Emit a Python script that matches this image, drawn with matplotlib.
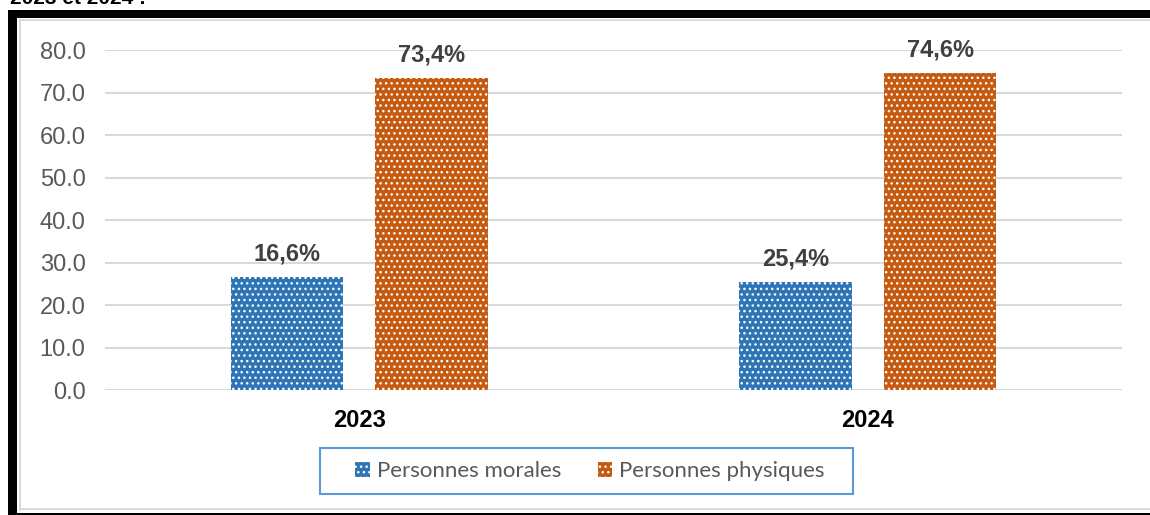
import matplotlib.pyplot as plt
from matplotlib.patches import Rectangle
import numpy as np

plt.rcParams['hatch.linewidth'] = 1.0

years = ['2023', '2024']
morales = [26.6, 25.4]
physiques = [73.4, 74.6]
morales_labels = ['16,6%', '25,4%']
physiques_labels = ['73,4%', '74,6%']
series_names = ['Personnes morales', 'Personnes physiques']

blue = '#2E75B6'
orange = '#C55A11'

fig = plt.figure(figsize=(11.5, 5.15), dpi=100)
ax = fig.add_axes([0.0913, 0.2427, 0.8844, 0.6602])

x = np.arange(len(years))
w = 0.222
off = 0.142
b1 = ax.bar(x - off, morales, w, color=blue, edgecolor='white', hatch='...', linewidth=0,
            label=series_names[0], zorder=3)
b2 = ax.bar(x + off, physiques, w, color=orange, edgecolor='white', hatch='...', linewidth=0,
            label=series_names[1], zorder=3)

for bars, labs in [(b1, morales_labels), (b2, physiques_labels)]:
    for rect, lab in zip(bars, labs):
        ax.annotate(lab, (rect.get_x() + rect.get_width() / 2, rect.get_height()),
                    xytext=(0, 12), textcoords='offset points', ha='center', va='baseline',
                    fontsize=17, fontweight='bold', color='#404040', family='Liberation Sans',
                    annotation_clip=False)

ax.set_xlim(-0.5, 1.5)
ax.set_ylim(0, 80)
ax.set_yticks(np.arange(0, 81, 10))
ax.set_yticklabels([f'{v:.1f}' for v in np.arange(0, 81, 10)], fontsize=17,
                   color='#595959', family='Liberation Sans')
ax.set_xticks(x)
ax.set_xticklabels(years, fontsize=17, fontweight='bold', color='black', family='Liberation Sans')
ax.tick_params(axis='y', length=0, pad=14)
ax.tick_params(axis='x', length=0, pad=14)
ax.grid(axis='y', color='#D9D9D9', linewidth=1.5, zorder=0)
for s in ax.spines.values():
    s.set_visible(False)

W, H = 1150, 515

leg = fig.legend(loc='center', bbox_to_anchor=(590 / W, 1 - 471 / H), ncol=2, frameon=False,
                 handlelength=0.65, handleheight=0.65,
                 handletextpad=0.3, columnspacing=1.67, borderpad=0.5,
                 prop={'family': 'Lato', 'size': 16})
for t in leg.get_texts():
    t.set_color('#595959')

def px_rect(x0, y0, w_, h_, color, fill=True, lw=0):
    r = Rectangle((x0 / W, 1 - (y0 + h_) / H), w_ / W, h_ / H, transform=fig.transFigure,
                  zorder=10, lw=lw, fill=fill)
    if fill:
        r.set_facecolor(color)
    r.set_edgecolor(color)
    fig.patches.append(r)

# legend box
px_rect(320, 448, 533, 46, '#5B9BD5', fill=False, lw=1.5)

# outer frame
px_rect(8, 10, 1142, 8, 'black')
px_rect(8, 10, 9, 505, 'black')
px_rect(8, 513, 1142, 2, 'black')
px_rect(19, 19, 1131, 2, '#D9D9D9')
px_rect(19, 19, 2, 492, '#D9D9D9')
px_rect(19, 508, 1131, 2, '#D9D9D9')

fig.text(10 / W, 1 - 4 / H, '2023 et 2024 :', fontsize=15, fontweight='bold',
         family='Liberation Sans', va='baseline', ha='left')

fig.savefig('out.png', dpi=100)
